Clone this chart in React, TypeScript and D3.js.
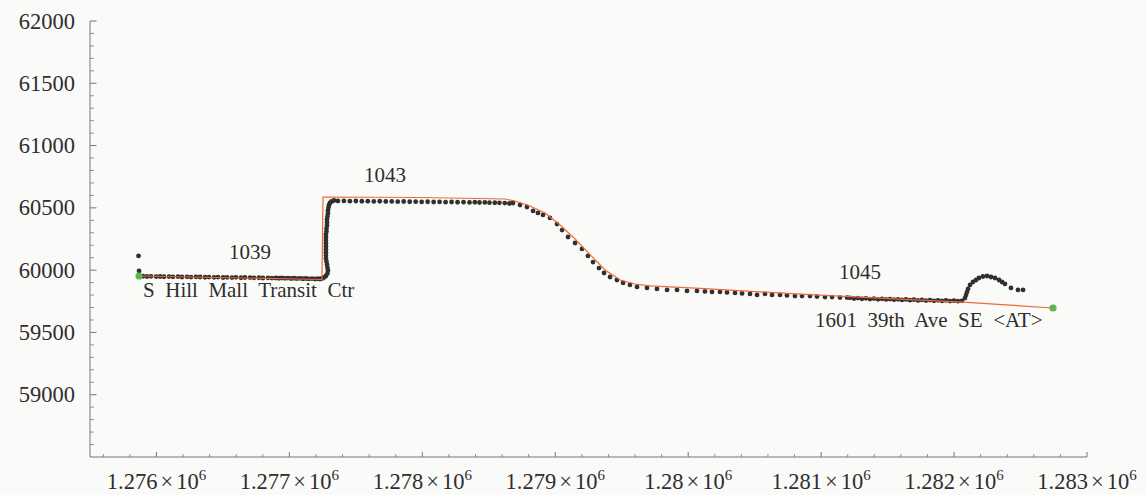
// Trajet bus : position (x, y) échantillonnée, tracé de référence en orange
import * as d3 from 'd3';

const W = 1147;
const H = 495;
const M = { top: 21, right: 60, bottom: 38, left: 90 };

// ── Axes ──────────────────────────────────────────
const X_DOMAIN = [1275500, 1283000];
const Y_DOMAIN = [58500, 62000];
const X_TICKS = [1276000, 1277000, 1278000, 1279000, 1280000, 1281000, 1282000, 1283000];
const X_TICK_LABELS = ['1.276', '1.277', '1.278', '1.279', '1.28', '1.281', '1.282', '1.283'];
const Y_TICKS = [59000, 59500, 60000, 60500, 61000, 61500, 62000];

// ── Points GPS (trace) ────────────────────────────
const TRACK_X = [
  1275865, 1275869, 1275870,
  1275899, 1275929, 1275959, 1275997, 1276027, 1276057, 1276094, 1276124, 1276162, 1276192,
  1276230, 1276260, 1276297, 1276328, 1276365, 1276395, 1276433, 1276463, 1276501, 1276531,
  1276568, 1276598, 1276636, 1276666, 1276704, 1276734, 1276771, 1276801, 1276839, 1276869,
  1276899, 1276922, 1276944, 1276967, 1276989, 1277012, 1277035, 1277057, 1277080, 1277102,
  1277125, 1277147, 1277170, 1277193, 1277215,
  1277230, 1277245, 1277260, 1277275, 1277286, 1277290, 1277286, 1277283, 1277279, 1277275,
  1277275, 1277275, 1277275, 1277275, 1277275, 1277275, 1277275, 1277275, 1277279, 1277279,
  1277283, 1277283, 1277283, 1277286, 1277290, 1277290, 1277294, 1277298, 1277305, 1277317, 1277335,
  1277365, 1277410, 1277455, 1277500, 1277545, 1277590, 1277635, 1277680, 1277725, 1277770,
  1277815, 1277860, 1277905, 1277950, 1277995, 1278040, 1278085, 1278130, 1278175, 1278220,
  1278265, 1278310, 1278355, 1278395, 1278430, 1278470, 1278505, 1278545, 1278580, 1278620, 1278655,
  1278682, 1278735, 1278787, 1278833, 1278870, 1278908, 1278960, 1279013, 1279051, 1279096,
  1279149, 1279201, 1279246, 1279284, 1279329, 1279367, 1279412, 1279464, 1279510, 1279562,
  1279615, 1279690, 1279765, 1279841, 1279916, 1279991, 1280066,
  1280126, 1280179, 1280239, 1280292, 1280352, 1280405, 1280465, 1280518, 1280578, 1280631,
  1280691, 1280743, 1280803, 1280856, 1280916, 1280969, 1281029, 1281082, 1281142, 1281195,
  1281217, 1281247, 1281277, 1281307, 1281337, 1281367, 1281397, 1281428, 1281458, 1281488,
  1281518, 1281548, 1281578, 1281608, 1281638, 1281668, 1281698, 1281728, 1281758, 1281789,
  1281819, 1281849, 1281879, 1281909, 1281939, 1281969, 1281999, 1282029, 1282059,
  1282082, 1282090, 1282097, 1282105, 1282120, 1282142, 1282165, 1282187, 1282217, 1282248,
  1282278, 1282308, 1282338, 1282361, 1282383, 1282428, 1282481, 1282519,
];
const TRACK_Y = [
  60114, 59993, 59957,
  59951, 59949, 59950, 59948, 59949, 59947, 59948, 59946, 59948, 59945,
  59946, 59944, 59946, 59945, 59943, 59944, 59942, 59944, 59941, 59942,
  59940, 59942, 59939, 59941, 59940, 59938, 59939, 59937, 59938, 59936,
  59937, 59935, 59937, 59934, 59936, 59933, 59935, 59932, 59934, 59931,
  59933, 59930, 59932, 59929, 59931,
  59929, 59933, 59941, 59953, 59973, 59997, 60021, 60045, 60069, 60093,
  60118, 60142, 60166, 60190, 60214, 60238, 60262, 60286, 60310, 60334,
  60358, 60382, 60407, 60431, 60455, 60479, 60503, 60523, 60539, 60551, 60559,
  60555, 60556, 60554, 60555, 60553, 60554, 60552, 60553, 60551, 60552,
  60550, 60551, 60549, 60550, 60548, 60549, 60547, 60548, 60546, 60547,
  60545, 60546, 60544, 60545, 60543, 60544, 60542, 60541, 60540, 60538, 60535,
  60539, 60523, 60507, 60475, 60459, 60443, 60419, 60370, 60322, 60266,
  60218, 60170, 60114, 60065, 60017, 59977, 59945, 59921, 59897, 59881,
  59865, 59857, 59849, 59841, 59841, 59833, 59833,
  59829, 59825, 59825, 59821, 59817, 59813, 59809, 59801, 59809, 59801,
  59801, 59797, 59792, 59792, 59792, 59788, 59784, 59784, 59780, 59780,
  59778, 59772, 59776, 59770, 59774, 59768, 59772, 59766, 59770, 59765,
  59768, 59763, 59766, 59761, 59765, 59759, 59763, 59757, 59761, 59756,
  59760, 59754, 59758, 59753, 59757, 59752, 59755, 59751, 59754,
  59776, 59800, 59824, 59849, 59881, 59905, 59921, 59937, 59949, 59953,
  59945, 59937, 59921, 59905, 59889, 59857, 59841, 59841,
];

// ── Tracé de la ligne (orange) ────────────────────
const ROUTE_X = [
  1275869, 1277245, 1277253, 1277982, 1278622, 1278697, 1278810, 1278923, 1279036, 1279149,
  1279263, 1279375, 1279488, 1279600, 1279713, 1280089, 1280841, 1281593, 1282067, 1282744,
];
const ROUTE_Y = [
  59953, 59925, 60587, 60583, 60571, 60555, 60515, 60459, 60362, 60250,
  60122, 60001, 59921, 59889, 59873, 59853, 59808, 59768, 59744, 59696,
];

// ── Arrêts (vert) et étiquettes ───────────────────
const STOP_X = [1275869, 1282744];
const STOP_Y = [59953, 59696];
const STOP_NAMES = ['S  Hill  Mall  Transit  Ctr', '1601  39th  Ave  SE  <AT>'];
const STOP_LABEL_X = [1275899, 1280954];
const STOP_LABEL_Y = [59784, 59544];

const TIMEPOINTS = ['1039', '1043', '1045'];
const TIMEPOINT_X = [1276704, 1277719, 1281292];
const TIMEPOINT_Y = [60089, 60708, 59929];

const FONT = '"Liberation Serif", "Times New Roman", serif';
const BG = '#fafaf8';
const AXIS = '#777777';
const TEXT = '#2e2e2e';

export default function App() {
  const x = d3.scaleLinear().domain(X_DOMAIN).range([M.left, W - M.right]);
  const y = d3.scaleLinear().domain(Y_DOMAIN).range([H - M.bottom, M.top]);

  const xMinor = d3.range(1275600, 1283001, 200).filter(v => v % 1000 !== 0);
  const yMinor = d3.range(58600, 62001, 100).filter(v => v % 500 !== 0);

  const route = d3.line<number>()
    .x((_, i) => x(ROUTE_X[i]))
    .y((_, i) => y(ROUTE_Y[i]))(ROUTE_X);

  const x0 = x(X_DOMAIN[0]);
  const y0 = y(Y_DOMAIN[0]);

  return (
    <div style={{ position: 'fixed', left: 0, top: 0, width: W, height: H, background: BG }}>
      <svg width={W} height={H} style={{ display: 'block', fontFamily: FONT }}>
        {/* Axes */}
        <line x1={x0} x2={x0} y1={y(Y_DOMAIN[1])} y2={y0} stroke={AXIS} strokeWidth={1} />
        <line x1={x0} x2={x(X_DOMAIN[1])} y1={y0} y2={y0} stroke={AXIS} strokeWidth={1} />

        {yMinor.map(v => (
          <line key={'ym' + v} x1={x0} x2={x0 + 4} y1={y(v)} y2={y(v)} stroke={AXIS} strokeWidth={0.8} />
        ))}
        {Y_TICKS.map(v => (
          <g key={'y' + v}>
            <line x1={x0} x2={x0 + 6.5} y1={y(v)} y2={y(v)} stroke={AXIS} strokeWidth={1} />
            <text x={x0 - 15} y={y(v)} textAnchor="end" dominantBaseline="central"
              fontSize={22.5} fill={TEXT}>{v}</text>
          </g>
        ))}

        {xMinor.map(v => (
          <line key={'xm' + v} x1={x(v)} x2={x(v)} y1={y0} y2={y0 - 3} stroke={AXIS} strokeWidth={0.8} />
        ))}
        {X_TICKS.map((v, i) => (
          <g key={'x' + v}>
            <line x1={x(v)} x2={x(v)} y1={y0} y2={y0 - 5} stroke={AXIS} strokeWidth={1} />
            <text x={x(v)} y={y0 + 32} textAnchor="middle" fontSize={22.5} fill={TEXT}>
              {X_TICK_LABELS[i]}
              <tspan dx={3}>×</tspan>
              <tspan dx={3}>10</tspan>
              <tspan dy={-9} fontSize={15}>6</tspan>
            </text>
          </g>
        ))}

        {/* Points de la trace */}
        {TRACK_X.map((v, i) => (
          <circle key={'t' + i} cx={x(v)} cy={y(TRACK_Y[i])} r={2.4} fill="#303030" />
        ))}

        {/* Tracé de la ligne */}
        <path d={route ?? ''} fill="none" stroke="#ec6a3c" strokeWidth={1.2} />

        {/* Arrêts */}
        {STOP_X.map((v, i) => (
          <circle key={'s' + i} cx={x(v)} cy={y(STOP_Y[i])} r={3.6} fill="#5db54e" />
        ))}

        {TIMEPOINTS.map((t, i) => (
          <text key={t} x={x(TIMEPOINT_X[i])} y={y(TIMEPOINT_Y[i])} textAnchor="middle"
            fontSize={21} fill={TEXT}>{t}</text>
        ))}
        {STOP_NAMES.map((n, i) => (
          <text key={n} x={x(STOP_LABEL_X[i])} y={y(STOP_LABEL_Y[i])} fontSize={21} fill={TEXT}
            xmlSpace="preserve" style={{ whiteSpace: 'pre' }}>{n}</text>
        ))}
      </svg>
    </div>
  );
}
